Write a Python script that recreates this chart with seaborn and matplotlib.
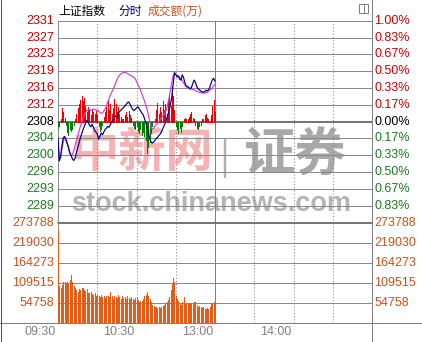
import numpy as np
import pandas as pd
import matplotlib
matplotlib.use("Agg")
import matplotlib.pyplot as plt
import matplotlib.transforms as mtrans
from matplotlib.lines import Line2D
from matplotlib.patches import Rectangle
import seaborn as sns

# ---------------- data ----------------
prev_close = 2308.0

price = [2304.4, 2299.0, 2300.0, 2302.5, 2304.3, 2304.6, 2303.8, 2303.0, 2302.2, 2301.0,
         2300.3, 2299.5, 2299.1, 2299.6, 2300.8, 2301.9, 2303.0, 2304.2, 2305.1, 2306.0,
         2306.8, 2307.6, 2308.3, 2307.9, 2307.2, 2306.8, 2307.4, 2306.7, 2306.0, 2305.6,
         2305.2, 2304.0, 2304.6, 2305.4, 2305.0, 2305.6, 2306.2, 2306.5, 2306.9, 2306.7,
         2307.3, 2307.9, 2308.4, 2308.9, 2309.3, 2309.0, 2309.7, 2310.3, 2310.6, 2310.9,
         2311.2, 2311.5, 2311.9, 2312.3, 2312.5, 2312.0, 2311.4, 2310.8, 2310.5, 2310.8,
         2311.1, 2311.4, 2311.0, 2310.5, 2310.0, 2309.6, 2308.8, 2307.8, 2306.9, 2305.5,
         2304.2, 2303.4, 2303.1, 2303.3, 2303.7, 2304.1, 2304.4, 2304.8, 2305.1, 2305.6,
         2306.3, 2307.0, 2307.7, 2308.6, 2309.6, 2310.6, 2312.0, 2313.7, 2316.5, 2319.2,
         2318.8, 2318.2, 2318.4, 2317.7, 2317.5, 2318.7, 2318.0, 2316.9, 2316.1, 2316.0,
         2315.8, 2315.5, 2315.8, 2316.7, 2317.5, 2317.0, 2316.1, 2315.5, 2315.3, 2315.0,
         2314.9, 2314.7, 2314.8, 2315.2, 2315.0, 2315.3, 2315.8, 2316.8, 2317.6, 2317.9,
         2317.2]

unweighted = [2303.5, 2299.5, 2299.8, 2301.8, 2303.3, 2304.5, 2304.3, 2303.2, 2301.8, 2300.6,
              2300.1, 2300.4, 2301.3, 2302.4, 2303.5, 2304.6, 2305.7, 2306.8, 2307.8, 2308.7,
              2309.4, 2310.0, 2310.5, 2310.7, 2310.8, 2310.6, 2310.7, 2310.9, 2310.8, 2310.6,
              2310.7, 2310.4, 2310.1, 2309.9, 2310.0, 2310.4, 2310.8, 2311.6, 2312.5, 2313.2,
              2314.0, 2314.7, 2315.3, 2316.0, 2316.8, 2317.5, 2318.2, 2318.6, 2318.9, 2319.1,
              2319.2, 2319.3, 2319.2, 2319.0, 2318.8, 2318.6, 2318.5, 2318.3, 2318.1, 2317.8,
              2317.2, 2316.5, 2315.9, 2315.2, 2314.4, 2313.6, 2312.8, 2311.9, 2310.9, 2309.6,
              2308.2, 2307.0, 2306.3, 2306.4, 2306.9, 2307.3, 2307.6, 2308.0, 2308.4, 2308.9,
              2309.3, 2309.6, 2310.2, 2310.9, 2312.1, 2313.6, 2315.3, 2317.0, 2318.5, 2319.0,
              2318.8, 2318.6, 2318.5, 2318.2, 2317.8, 2317.3, 2316.8, 2316.4, 2316.0, 2315.8,
              2315.6, 2315.5, 2315.4, 2315.3, 2315.3, 2315.1, 2314.9, 2314.8, 2314.7, 2314.6,
              2314.6, 2314.5, 2314.6, 2314.6, 2314.7, 2314.9, 2315.2, 2315.4, 2315.7, 2316.2,
              2316.6]

strength = [-1.4, -0.9, 0.5, 3.2, 2.3, 0.9, -0.7, -2.3, -3.0, -1.8,
            -2.1, -1.6, -0.7, 0.7, 1.8, 3.2, 4.1, 5.0, 5.9, 4.6,
            5.5, 3.6, 2.3, 3.4, 2.7, 1.4, 2.7, 2.3, 1.8, 2.5,
            1.4, -0.9, -2.1, -1.6, -0.7, 1.1, 2.3, 3.4, 4.6, 2.7,
            4.1, 1.8, 3.2, 5.2, 4.1, 2.3, 3.4, 1.8, 1.1, 0.7,
            0.5, 1.4, 2.1, 1.1, 2.5, 1.6, 0.9, -0.7, -1.4, -1.8,
            -0.9, -2.1, -2.5, -1.6, -3.0, -2.3, -3.4, -4.3, -7.1, -5.7,
            -4.6, -2.7, -1.1, -0.2, 0.7, 2.7, 4.3, 1.8, 3.4, 2.3,
            4.6, 2.7, 4.1, 1.8, 5.0, 6.4, 3.6, 8.0, 5.9, 2.7,
            -0.9, -1.8, -2.7, -1.4, -2.3, -0.9, 0.5, 0.9, 0.7, 0.5,
            1.1, 1.8, 2.3, 0.9, 0.5, -0.7, -1.4, -1.8, -1.1, -0.7,
            0.7, 0.5, 1.4, 1.8, 0.9, 0.5, 0.2, 1.4, 3.6, 5.0,
            2.3]

volume = [252000, 100000, 96000, 104000, 112000, 110000, 106000, 112000, 108000, 118000,
          130000, 112000, 100000, 94000, 88000, 84000, 92000, 90000, 94000, 96000,
          90000, 86000, 92000, 82000, 80000, 84000, 78000, 76000, 80000, 72000,
          76000, 74000, 70000, 76000, 70000, 73000, 68000, 74000, 72000, 70000,
          84000, 72000, 66000, 74000, 70000, 68000, 76000, 70000, 66000, 72000,
          68000, 70000, 64000, 74000, 68000, 64000, 70000, 66000, 62000, 68000,
          70000, 62000, 56000, 58000, 60000, 64000, 72000, 76000, 84000, 72000,
          64000, 56000, 48000, 46000, 44000, 42000, 40000, 42000, 40000, 44000,
          46000, 48000, 52000, 56000, 62000, 70000, 90000, 106000, 122000, 112000,
          74000, 66000, 60000, 52000, 48000, 56000, 71000, 52000, 50000, 53000,
          50000, 52000, 54000, 50000, 56000, 57000, 48000, 44000, 46000, 44000,
          40000, 42000, 38000, 37000, 40000, 38000, 44000, 53000, 50000, 56000,
          52000]

price_labels = ["2331", "2327", "2323", "2319", "2316", "2312", "2308",
                "2304", "2300", "2296", "2293", "2289"]
pct_labels = ["1.00%", "0.83%", "0.67%", "0.50%", "0.33%", "0.17%", "0.00%",
              "0.17%", "0.33%", "0.50%", "0.67%", "0.83%"]
vol_ticks = [273788, 219030, 164273, 109515, 54758]
vol_labels = ["273788", "219030", "164273", "109515", "54758"]
time_labels = ["09:30", "10:30", "13:00", "14:00"]
time_pos = [0, 60, 120, 180]

minutes = np.arange(len(price))
df = pd.DataFrame({"minute": minutes, "price": price, "unweighted": unweighted,
                   "strength": strength, "volume": volume})

# ---------------- style ----------------
sns.set_theme(style="white")
plt.rcParams["font.family"] = ["Liberation Sans", "Noto Sans CJK SC", "DejaVu Sans"]

RED = "#cc0000"
GREEN = "#1e7a1e"
BROWN = "#c8501e"
GRID = "#8a8a8a"
DARK = "#555555"
PX = 0.72  # one pixel in points

W, H = 422, 342
fig = plt.figure(figsize=(W / 100, H / 100), dpi=100)
fig.patch.set_facecolor("white")

def fx(x):
    return x / W

def fy(y):
    return 1 - y / H

L, R = 58, 372
TOP, MID, BOT = 20.7, 222.5, 322.7
ax = fig.add_axes([fx(L), fy(MID), (R - L) / W, (MID - TOP) / H])
axv = fig.add_axes([fx(L), fy(BOT), (R - L) / W, (BOT - MID) / H])
for a in (ax, axv):
    a.set_facecolor("none")
    a.set_xlim(0, 240)
    for s in a.spines.values():
        s.set_visible(False)
    a.set_xticks([])
    a.set_yticks([])

price_ticks = [prev_close * (1 + k / 600) for k in range(6, -6, -1)]

# horizontal grid
for t in price_ticks:
    if abs(t - prev_close) < 1e-9:
        ax.axhline(t, color=DARK, lw=1.6 * PX, zorder=1, clip_on=False)
    else:
        ax.axhline(t, color=GRID, lw=PX, zorder=1, clip_on=False)
for t in vol_ticks:
    if t == vol_ticks[0]:
        axv.axhline(t, color=DARK, lw=1.6 * PX, zorder=1, clip_on=False)
    else:
        axv.axhline(t, color=GRID, lw=PX, zorder=1, clip_on=False)

# vertical grid
for a in (ax, axv):
    a.axvline(0, color=GRID, lw=PX, zorder=1, clip_on=False)
    for v in (30, 60, 90, 150, 180, 210):
        a.axvline(v, color="#808080", lw=PX, ls=(0, (1, 2.2)), zorder=1)
    a.axvline(120, color="#808080", lw=PX, zorder=1)

# indicator bars (red / green)
pos = df[df["strength"] > 0]
neg = df[df["strength"] < 0]
ax.vlines(pos["minute"], prev_close, prev_close + pos["strength"], colors="#ee0000",
          lw=1.0 * PX, zorder=2, antialiased=False)
ax.vlines(neg["minute"], prev_close, prev_close + neg["strength"], colors="#008000",
          lw=1.0 * PX, zorder=2, antialiased=False)

# lines
sns.lineplot(data=df, x="minute", y="unweighted", ax=ax, color="#d63cd6",
             lw=1.0 * PX * 1.2, legend=False, zorder=3)
sns.lineplot(data=df, x="minute", y="price", ax=ax, color="#000080",
             lw=1.0 * PX * 1.2, legend=False, zorder=4)

# volume
axv.vlines(df["minute"], 0, df["volume"], colors="#e65c17", lw=1.0 * PX,
           zorder=2, antialiased=False)

for a in (ax, axv):
    a.set_xlabel("")
    a.set_ylabel("")
    a.set_xlim(0, 240)
ax.set_ylim(prev_close * 0.99, prev_close * 1.01)
axv.set_ylim(0, vol_ticks[0])

# labels
aw = R - L
ytr = ax.get_yaxis_transform()
for i, (t, lab, pl) in enumerate(zip(price_ticks, price_labels, pct_labels)):
    c = RED if i < 6 else ("black" if i == 6 else GREEN)
    ax.text(-4 / aw, t, lab, transform=ytr, ha="right", va="center",
            fontsize=9, color=c)
    ax.text(1 + 2.5 / aw, t, pl, transform=ytr, ha="left", va="center",
            fontsize=9, color=c)
vtr = axv.get_yaxis_transform()
for t, lab in zip(vol_ticks, vol_labels):
    axv.text(-4 / aw, t, lab, transform=vtr, ha="right", va="center",
             fontsize=9, color=BROWN)
    axv.text(1 + 2.5 / aw, t, lab, transform=vtr, ha="left", va="center",
             fontsize=9, color=BROWN)
xtr = mtrans.blended_transform_factory(axv.transData, axv.transAxes)
for m, lab in zip(time_pos, time_labels):
    axv.text(m - 1.4, -(332 - BOT) / (BOT - MID), lab, transform=xtr, ha="right",
             va="center", fontsize=9, color="#808080")

# title
cjk = ["Noto Sans CJK SC", "Liberation Sans"]
fig.text(fx(58), fy(11), "上证指数", family=cjk, fontsize=8.5, color="black", va="center")
fig.text(fx(118), fy(11), "分时", family=cjk, fontsize=8.5, color="#000080", va="center")
fig.text(fx(148), fy(11), "成交额(万)", family=cjk, fontsize=8.5, color=BROWN, va="center")

# watermark (under the chart content)
fig.text(fx(143), fy(153), "中新网", family=cjk, fontsize=34, weight="bold",
         color="#f5b2b2", ha="center", va="center", zorder=-1)
fig.add_artist(Line2D([fx(225), fx(225)], [fy(140), fy(177)], color="#b0b0b0",
                      lw=2.5 * PX, zorder=-1))
fig.text(fx(295), fy(155), "证券", family=cjk, fontsize=37, weight="bold",
         color="#a8a8a8", ha="center", va="center", zorder=-1)
fig.text(fx(211), fy(204), "stock.chinanews.com", family=["Liberation Sans"],
         fontsize=19.5, weight="bold", color="#b4b4b4", ha="center", va="center",
         zorder=-1)

# frame lines
fig.add_artist(Line2D([0, 1], [fy(BOT), fy(BOT)], color="#808080", lw=PX))
fig.add_artist(Line2D([fx(R), fx(R)], [0, 1], color="#808080", lw=PX))
fig.add_artist(Line2D([fx(0.5), fx(0.5)], [0, 1], color="#505050", lw=PX))

# small icon top-right
fig.add_artist(Rectangle((fx(359), fy(12.5)), 9 / W, 9 / H, transform=fig.transFigure,
                         fill=False, edgecolor="#808080", lw=PX))
fig.add_artist(Line2D([fx(364), fx(364)], [fy(12.5), fy(3.5)], color="#808080", lw=PX))

fig.savefig("out.png", dpi=100)
